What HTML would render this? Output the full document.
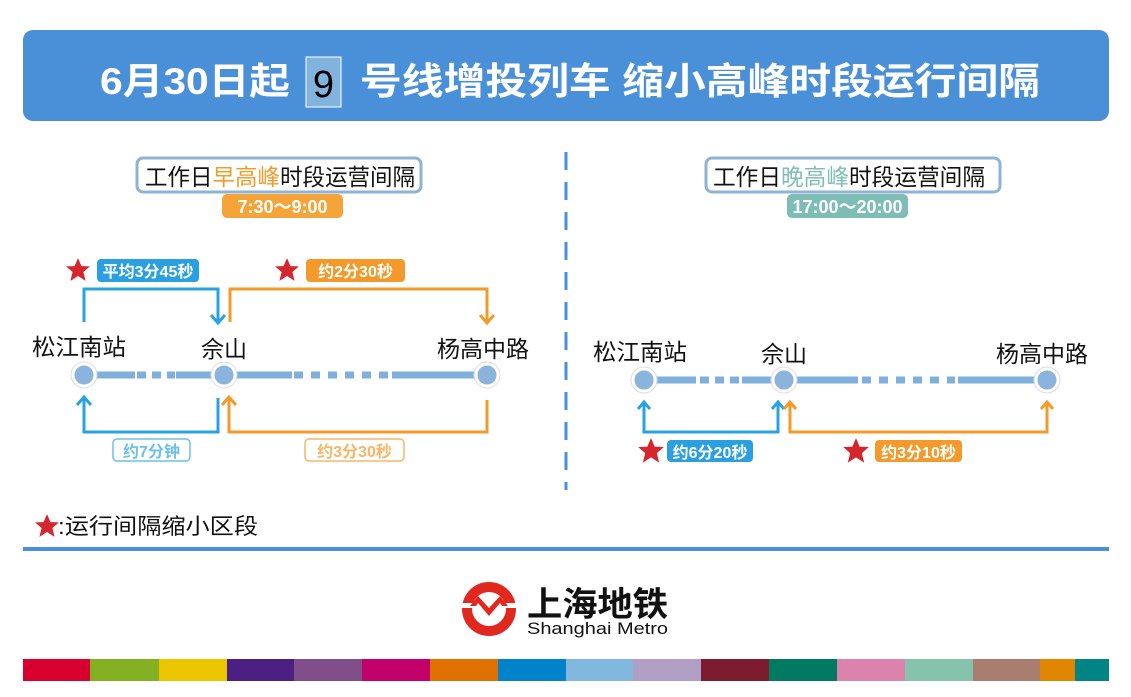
<!DOCTYPE html>
<html><head><meta charset="utf-8"><style>
html,body{margin:0;padding:0;background:#fff;}
svg{display:block;font-family:"Liberation Sans","Noto Sans CJK SC",sans-serif;}
</style></head><body>
<svg width="1131" height="697" viewBox="0 0 1131 697" xmlns="http://www.w3.org/2000/svg">
<defs>
<symbol id="star" viewBox="-12 -12 24 24"><polygon points="0,-11 3.2,-3.6 11,-3.4 5,1.8 7,10 0,5.5 -7,10 -5,1.8 -11,-3.4 -3.2,-3.6" fill="#d4262c"/></symbol>
</defs>
<!-- title -->
<rect x="23" y="30" width="1086" height="91" rx="10" fill="#4a90d9"/>
<text x="100" y="94" font-size="37" font-weight="bold" fill="#fff" textLength="190" lengthAdjust="spacingAndGlyphs">6月30日起</text>
<rect x="306" y="57" width="35" height="50" fill="#82b3dd" stroke="#fff" stroke-width="1"/>
<text x="323.5" y="97" font-size="38" text-anchor="middle" fill="#000">9</text>
<text x="360" y="94" font-size="37" font-weight="bold" fill="#fff" textLength="680" lengthAdjust="spacingAndGlyphs">号线增投列车 缩小高峰时段运行间隔</text>

<!-- divider -->
<line x1="566" y1="152" x2="566" y2="490" stroke="#4a90d9" stroke-width="3" stroke-dasharray="18,12"/>

<!-- LEFT -->
<rect x="137" y="158" width="284" height="34" rx="6" fill="#fff" stroke="#8fb3d3" stroke-width="3"/>
<text x="145" y="185" font-size="23" fill="#111" textLength="270" lengthAdjust="spacingAndGlyphs">工作日<tspan fill="#f39c2b">早高峰</tspan>时段运营间隔</text>
<rect x="222" y="194" width="121" height="24" rx="5" fill="#f5a43a"/>
<text x="282.5" y="213" font-size="18" font-weight="bold" text-anchor="middle" fill="#fff">7:30～9:00</text>

<g stroke="#7fb0dc" stroke-width="7">
<line x1="90" y1="375" x2="135" y2="375"/>
<line x1="137" y1="375" x2="175" y2="375" stroke-dasharray="9,6"/>
<line x1="176" y1="375" x2="218" y2="375"/>
<line x1="230" y1="375" x2="292" y2="375"/>
<line x1="294" y1="375" x2="390" y2="375" stroke-dasharray="9,8"/>
<line x1="392" y1="375" x2="480" y2="375"/>
</g>
<g fill="#8ab4dc" stroke="#fff" stroke-width="3">
<circle cx="84" cy="375" r="11"/><circle cx="224" cy="375" r="11"/><circle cx="487" cy="375" r="11"/>
</g>
<g fill="none" stroke="#ddd" stroke-width="1">
<circle cx="84" cy="375" r="13"/><circle cx="224" cy="375" r="13"/><circle cx="487" cy="375" r="13"/>
</g>
<g font-size="23" fill="#111">
<text x="32" y="355" textLength="94" lengthAdjust="spacingAndGlyphs">松江南站</text>
<text x="224" y="357" text-anchor="middle">佘山</text>
<text x="483" y="357" text-anchor="middle">杨高中路</text>
</g>
<g fill="none" stroke-width="3" stroke-linejoin="miter">
<polyline points="84,322 84,289 218,289 218,322" stroke="#29a3e0"/>
<polyline points="211,315 218,323 225,315" stroke="#29a3e0"/>
<polyline points="230,322 230,289 487,289 487,322" stroke="#f39a2b"/>
<polyline points="480,315 487,323 494,315" stroke="#f39a2b"/>
<polyline points="218,398 218,432 84,432 84,398" stroke="#29a3e0"/>
<polyline points="77,405 84,397 91,405" stroke="#29a3e0"/>
<polyline points="487,400 487,432 229,432 229,398" stroke="#f39a2b"/>
<polyline points="222,405 229,397 236,405" stroke="#f39a2b"/>
</g>
<use href="#star" x="65" y="257" width="26" height="26"/>
<rect x="97" y="259" width="102" height="23" rx="4" fill="#2aa0e0"/>
<text x="148" y="277" font-size="16" font-weight="bold" text-anchor="middle" fill="#fff">平均3分45秒</text>
<use href="#star" x="274" y="257" width="26" height="26"/>
<rect x="306" y="259" width="99" height="23" rx="4" fill="#f39a2b"/>
<text x="355.5" y="277" font-size="16" font-weight="bold" text-anchor="middle" fill="#fff">约2分30秒</text>
<rect x="113" y="439" width="77" height="22" rx="4" fill="#fff" stroke="#6cc0ea" stroke-width="1.5"/>
<text x="151.5" y="457" font-size="16" font-weight="bold" text-anchor="middle" fill="#6cc0ea">约7分钟</text>
<rect x="305" y="439" width="99" height="22" rx="4" fill="#fff" stroke="#f7b566" stroke-width="1.5"/>
<text x="354.5" y="457" font-size="16" font-weight="bold" text-anchor="middle" fill="#f7b566">约3分30秒</text>

<!-- RIGHT -->
<rect x="706" y="158" width="294" height="34" rx="6" fill="#fff" stroke="#8fb3d3" stroke-width="3"/>
<text x="713" y="185" font-size="23" fill="#111" textLength="272" lengthAdjust="spacingAndGlyphs">工作日<tspan fill="#7fbfb8">晚高峰</tspan>时段运营间隔</text>
<rect x="787" y="194" width="121" height="24" rx="5" fill="#7dbdb5"/>
<text x="847.5" y="213" font-size="18" font-weight="bold" text-anchor="middle" fill="#fff">17:00～20:00</text>

<g stroke="#7fb0dc" stroke-width="7">
<line x1="650" y1="380" x2="696" y2="380"/>
<line x1="700" y1="380" x2="740" y2="380" stroke-dasharray="9,6"/>
<line x1="742" y1="380" x2="778" y2="380"/>
<line x1="790" y1="380" x2="858" y2="380"/>
<line x1="862" y1="380" x2="955" y2="380" stroke-dasharray="9,8"/>
<line x1="958" y1="380" x2="1040" y2="380"/>
</g>
<g fill="#8ab4dc" stroke="#fff" stroke-width="3">
<circle cx="644" cy="380" r="11"/><circle cx="784" cy="380" r="11"/><circle cx="1047" cy="380" r="11"/>
</g>
<g fill="none" stroke="#ddd" stroke-width="1">
<circle cx="644" cy="380" r="13"/><circle cx="784" cy="380" r="13"/><circle cx="1047" cy="380" r="13"/>
</g>
<g font-size="23" fill="#111">
<text x="593" y="360" textLength="94" lengthAdjust="spacingAndGlyphs">松江南站</text>
<text x="784" y="362" text-anchor="middle">佘山</text>
<text x="1042" y="362" text-anchor="middle">杨高中路</text>
</g>
<g fill="none" stroke-width="3">
<polyline points="644,402 644,432 778,432 778,402" stroke="#29a3e0"/>
<polyline points="638,409 644,402 650,409" stroke="#29a3e0"/>
<polyline points="772,409 778,402 784,409" stroke="#29a3e0"/>
<polyline points="790,402 790,432 1047,432 1047,402" stroke="#f39a2b"/>
<polyline points="784,409 790,402 796,409" stroke="#f39a2b"/>
<polyline points="1041,409 1047,402 1053,409" stroke="#f39a2b"/>
</g>
<use href="#star" x="637" y="437" width="28" height="28"/>
<rect x="667" y="440" width="86" height="22" rx="4" fill="#2aa0e0"/>
<text x="710" y="458" font-size="16" font-weight="bold" text-anchor="middle" fill="#fff">约6分20秒</text>
<use href="#star" x="842" y="437" width="28" height="28"/>
<rect x="875" y="440" width="87" height="22" rx="4" fill="#f39a2b"/>
<text x="918.5" y="458" font-size="16" font-weight="bold" text-anchor="middle" fill="#fff">约3分10秒</text>

<!-- legend -->
<use href="#star" x="34" y="513" width="26" height="26"/>
<text x="58" y="534" font-size="22" fill="#111" textLength="200" lengthAdjust="spacingAndGlyphs">:运行间隔缩小区段</text>
<rect x="23" y="547" width="1086" height="4" fill="#4a90d9"/>

<!-- logo -->
<circle cx="489" cy="609" r="27" fill="#e0281f"/>
<circle cx="489" cy="609" r="17" fill="#fff"/>
<rect x="460" y="603" width="58" height="5" fill="#fff"/>
<path d="M470,606 L478,596 L489,608 L500,596 L508,606 L502,606 L500,603 L489,616 L478,603 L476,606 Z" fill="#e0281f"/>
<text x="527" y="616" font-size="34" font-weight="bold" fill="#111" textLength="141" lengthAdjust="spacingAndGlyphs">上海地铁</text>
<text x="527" y="634" font-size="17" fill="#111" textLength="141" lengthAdjust="spacingAndGlyphs">Shanghai Metro</text>

<!-- color bar -->
<g>
<rect x="23" y="659" width="67" height="22" fill="#d7002e"/>
<rect x="90" y="659" width="69" height="22" fill="#84b123"/>
<rect x="159" y="659" width="68" height="22" fill="#ebc600"/>
<rect x="227" y="659" width="67" height="22" fill="#4c1f83"/>
<rect x="294" y="659" width="68" height="22" fill="#804f8a"/>
<rect x="362" y="659" width="68" height="22" fill="#c2006a"/>
<rect x="430" y="659" width="68" height="22" fill="#e07000"/>
<rect x="498" y="659" width="68" height="22" fill="#0083cb"/>
<rect x="566" y="659" width="67" height="22" fill="#82b8df"/>
<rect x="633" y="659" width="68" height="22" fill="#b09ec4"/>
<rect x="701" y="659" width="68" height="22" fill="#7e1c2f"/>
<rect x="769" y="659" width="68" height="22" fill="#007b62"/>
<rect x="837" y="659" width="68" height="22" fill="#d983ad"/>
<rect x="905" y="659" width="68" height="22" fill="#85c3ac"/>
<rect x="973" y="659" width="67" height="22" fill="#a97d6f"/>
<rect x="1040" y="659" width="35" height="22" fill="#e08600"/>
<rect x="1075" y="659" width="34" height="22" fill="#008584"/>
</g>
</svg>
</body></html>
